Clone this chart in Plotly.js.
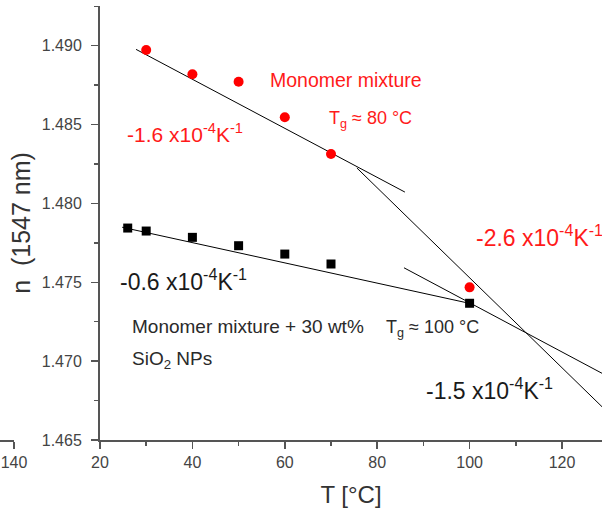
<!DOCTYPE html>
<html>
<head>
<meta charset="utf-8">
<script src="https://cdn.plot.ly/plotly-3.0.1.min.js"></script>
<style>html,body{margin:0;padding:0;background:#fff;}#chart{width:602px;height:518px;}</style>
</head>
<body>
<div id="chart"></div>
<script>
// Measured data: refractive index n at 1547 nm vs temperature T (°C)
const T_monomer = [30, 40, 50, 60, 70, 100];
const n_monomer = [1.48973, 1.48819, 1.48772, 1.48547, 1.48313, 1.47468];
const T_sio2 = [26, 30, 40, 50, 60, 70, 100];
const n_sio2 = [1.47844, 1.47825, 1.47785, 1.47732, 1.47679, 1.47616, 1.47367];

// Linear fit segments (endpoints)
const fitMonoLow_T = [27.8, 86.0];
const fitMonoLow_n = [1.48977, 1.48072];
const fitMonoHigh_T = [75.6, 128.66];
const fitMonoHigh_n = [1.48225, 1.46711];
const fitSioLow_T = [24.8, 99.9];
const fitSioLow_n = [1.47849, 1.47367];
const fitSioHigh_T = [85.8, 128.66];
const fitSioHigh_n = [1.47592, 1.46923];

// Axis ticks
const xTickStart = 20, xTickStep = 20;
const yTickStep = 0.005;
const stubTick = [140];

const FONT = 'Arial, "Liberation Sans", sans-serif';
const AX = '#555555';
const RED = '#ff1a1a';
const BLK = '#1a1a1a';

function lineTrace(x, y) {
  return {x: x, y: y, type: 'scatter', mode: 'lines',
          line: {color: '#000', width: 1}, hoverinfo: 'skip', xaxis: 'x', yaxis: 'y'};
}

const traces = [
  lineTrace(fitMonoLow_T, fitMonoLow_n),
  lineTrace(fitMonoHigh_T, fitMonoHigh_n),
  lineTrace(fitSioLow_T, fitSioLow_n),
  lineTrace(fitSioHigh_T, fitSioHigh_n),
  {x: T_monomer, y: n_monomer, type: 'scatter', mode: 'markers',
   marker: {symbol: 'circle', size: 10, color: '#ff0000'}, name: 'Monomer mixture'},
  {x: T_sio2, y: n_sio2, type: 'scatter', mode: 'markers',
   marker: {symbol: 'square', size: 9, color: '#000'}, name: 'Monomer mixture + 30 wt% SiO2 NPs'},
  // invisible trace to show the stub axis from the neighbouring panel
  {x: stubTick, y: [1.465], type: 'scatter', mode: 'markers', marker: {opacity: 0},
   xaxis: 'x2', yaxis: 'y', hoverinfo: 'skip'}
];

// pixel -> paper helpers for text placement
const W = 602, H = 518, T0 = 6, B0 = 440;
function px(x) { return x / W; }
function py(y) { return (B0 - y) / (B0 - T0); }

function ann(text, x, y, size, color) {
  return {text: text, xref: 'paper', yref: 'paper', x: px(x), y: py(y),
          xanchor: 'left', yanchor: 'middle', showarrow: false,
          font: {family: FONT, size: size, color: color}};
}

const annotations = [
  ann('Monomer mixture', 268, 80, 19.5, RED),
  ann('T<sub>g</sub> ≈ 80 °C', 327, 120, 18, RED),
  ann('-1.6 x10<sup>-4</sup>K<sup>-1</sup>', 125, 133, 21, RED),
  ann('-2.6 x10<sup>-4</sup>K<sup>-1</sup>', 474, 236, 23, RED),
  ann('-0.6 x10<sup>-4</sup>K<sup>-1</sup>', 118, 280, 23, BLK),
  ann('Monomer mixture + 30 wt%', 130, 326, 19, '#2a2a2a'),
  ann('T<sub>g</sub> ≈ 100 °C', 384, 328, 18, '#2a2a2a'),
  ann('SiO<sub>2</sub> NPs', 130, 360, 19, '#2a2a2a'),
  ann('-1.5 x10<sup>-4</sup>K<sup>-1</sup>', 424, 389, 23, BLK)
];

const layout = {
  width: W, height: H,
  margin: {l: 0, r: 0, t: T0, b: H - B0, pad: 0},
  paper_bgcolor: '#fff', plot_bgcolor: '#fff',
  showlegend: false,
  font: {family: FONT, color: '#444'},
  xaxis: {
    domain: [100 / W, 1], range: [20, 128.66],
    tickmode: 'linear', tick0: xTickStart, dtick: xTickStep,
    ticks: 'outside', ticklen: 7, tickwidth: 1.5, tickcolor: AX,
    minor: {ticks: 'outside', ticklen: 4, tickwidth: 1.5, tickcolor: AX, dtick: xTickStep / 2, tick0: xTickStart},
    showline: true, linecolor: AX, linewidth: 2,
    showgrid: false, zeroline: false,
    tickfont: {family: FONT, size: 16, color: '#444'},
    title: {text: 'T [°C]', font: {family: FONT, size: 24, color: '#333'}, standoff: 16},
    anchor: 'y'
  },
  xaxis2: {
    domain: [0, 14 / W], range: [120, 140],
    tickmode: 'array', tickvals: stubTick, ticktext: ['140'],
    ticks: 'outside', ticklen: 7, tickwidth: 1.5, tickcolor: AX,
    showline: true, linecolor: AX, linewidth: 2,
    showgrid: false, zeroline: false,
    tickfont: {family: FONT, size: 16, color: '#444'},
    anchor: 'y'
  },
  yaxis: {
    range: [1.465, 1.49252],
    tickmode: 'linear', tick0: 1.465, dtick: yTickStep, tickformat: '.3f',
    ticks: 'outside', ticklen: 7, tickwidth: 1.5, tickcolor: AX,
    minor: {ticks: 'outside', ticklen: 4, tickwidth: 1.5, tickcolor: AX, dtick: yTickStep / 2, tick0: 1.465},
    showline: true, linecolor: AX, linewidth: 2,
    showgrid: false, zeroline: false,
    ticklabelstandoff: 6,
    tickfont: {family: FONT, size: 16, color: '#444'},
    title: {text: 'n  (1547 nm)', font: {family: FONT, size: 25, color: '#333'}, standoff: 4},
    anchor: 'x'
  },
  annotations: annotations
};

Plotly.newPlot('chart', traces, layout, {displayModeBar: false, staticPlot: true});
</script>
</body>
</html>
